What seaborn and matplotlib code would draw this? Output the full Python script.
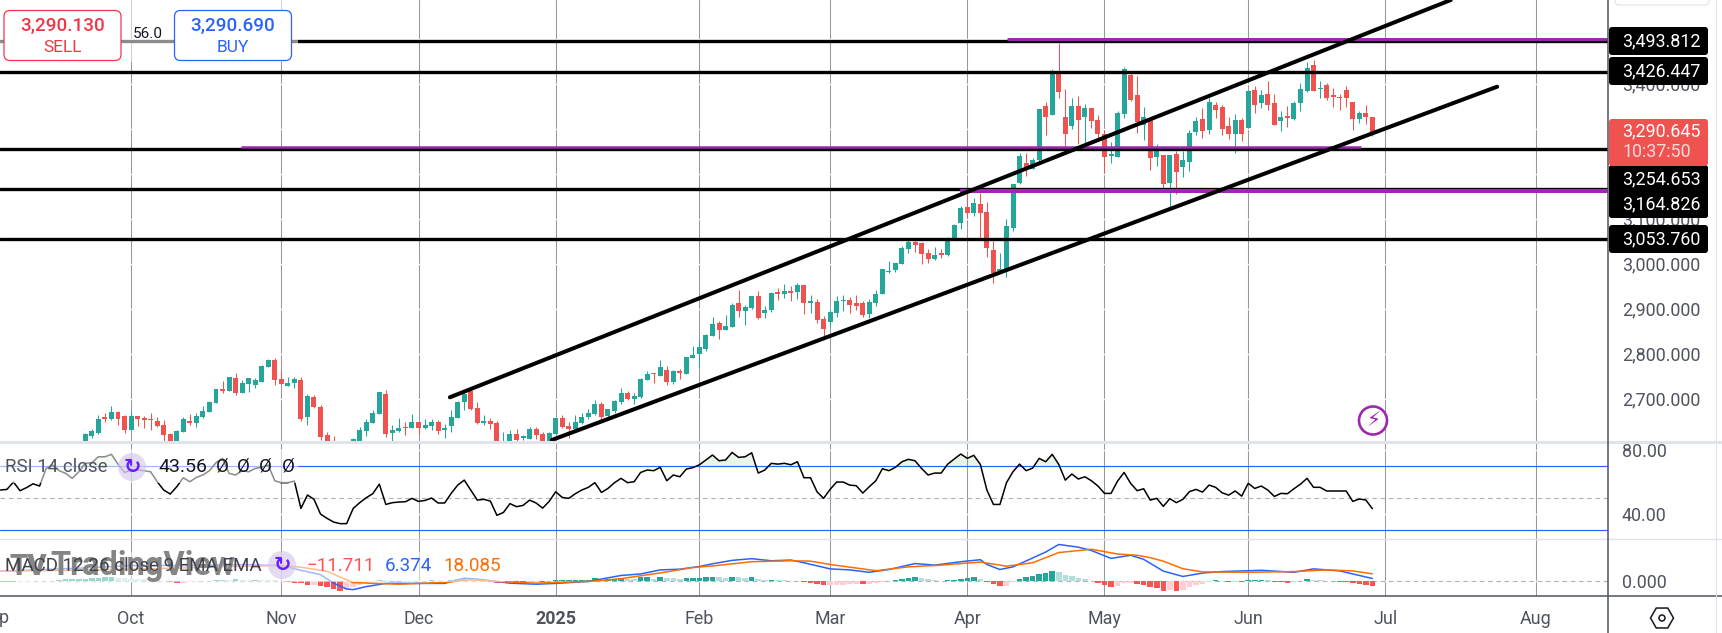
import numpy as np
import matplotlib

matplotlib.use("Agg")
import matplotlib.pyplot as plt
from matplotlib.patches import Circle, FancyBboxPatch, Rectangle, RegularPolygon
import seaborn as sns

# candles, one per trading day
opens = [
    2600, 2617, 2624, 2657, 2654, 2670, 2661, 2630, 2661, 2657,
    2654, 2650, 2641, 2621, 2596, 2626, 2648, 2646, 2659, 2670,
    2690, 2721, 2717, 2746, 2712, 2732, 2730, 2737, 2770, 2786,
    2743, 2728, 2734, 2741, 2659, 2703, 2681, 2619, 2600, 2575,
    2590, 2585, 2600, 2628, 2646, 2666, 2710, 2623, 2628, 2637,
    2634, 2648, 2634, 2639, 2648, 2631, 2639, 2657, 2692, 2716,
    2679, 2646, 2650, 2646, 2590, 2600, 2621, 2613, 2610, 2632,
    2621, 2600, 2621, 2657, 2639, 2632, 2645, 2659, 2665, 2688,
    2661, 2672, 2692, 2712, 2699, 2703, 2741, 2755, 2750, 2763,
    2737, 2761, 2754, 2790, 2799, 2810, 2839, 2868, 2852, 2859,
    2912, 2894, 2901, 2928, 2890, 2897, 2934, 2932, 2939, 2937,
    2952, 2913, 2914, 2877, 2870, 2890, 2917, 2919, 2912, 2912,
    2888, 2912, 2932, 2981, 2985, 2999, 3032, 3048, 3045, 3023,
    3010, 3021, 3019, 3057, 3090, 3126, 3112, 3132, 3114, 3030,
    2984, 2988, 3079, 3179, 3223, 3210, 3230, 3350, 3330, 3426,
    3326, 3305, 3350, 3325, 3345, 3319, 3288, 3240, 3237, 3332,
    3419, 3374, 3308, 3321, 3237, 3241, 3179, 3243, 3214, 3225,
    3292, 3321, 3297, 3352, 3348, 3305, 3288, 3319, 3301, 3385,
    3357, 3377, 3357, 3317, 3326, 3321, 3357, 3383, 3441, 3388,
    3397, 3372, 3370, 3385, 3359, 3321, 3334, 3325,
]
highs = [
    2623, 2632, 2663, 2668, 2683, 2672, 2663, 2672, 2661, 2661,
    2668, 2659, 2652, 2623, 2630, 2659, 2666, 2668, 2683, 2694,
    2721, 2739, 2748, 2757, 2741, 2746, 2746, 2774, 2788, 2790,
    2761, 2748, 2748, 2748, 2710, 2708, 2686, 2626, 2617, 2600,
    2604, 2612, 2637, 2654, 2674, 2714, 2719, 2641, 2657, 2648,
    2666, 2648, 2654, 2654, 2652, 2643, 2674, 2694, 2719, 2719,
    2692, 2663, 2657, 2650, 2626, 2630, 2632, 2619, 2637, 2637,
    2626, 2626, 2657, 2663, 2648, 2663, 2668, 2677, 2697, 2692,
    2677, 2697, 2723, 2717, 2712, 2745, 2761, 2757, 2785, 2772,
    2763, 2765, 2792, 2817, 2830, 2843, 2881, 2872, 2885, 2912,
    2941, 2908, 2928, 2939, 2905, 2937, 2945, 2954, 2950, 2957,
    2952, 2930, 2921, 2883, 2899, 2928, 2930, 2925, 2930, 2917,
    2921, 2941, 2988, 3005, 3001, 3039, 3057, 3057, 3048, 3032,
    3037, 3032, 3059, 3088, 3128, 3154, 3146, 3157, 3137, 3050,
    3023, 3099, 3177, 3246, 3245, 3234, 3343, 3359, 3432, 3490,
    3388, 3368, 3372, 3354, 3345, 3330, 3297, 3270, 3339, 3437,
    3423, 3417, 3348, 3321, 3265, 3241, 3241, 3250, 3250, 3297,
    3326, 3345, 3368, 3359, 3352, 3325, 3332, 3323, 3383, 3394,
    3385, 3405, 3377, 3339, 3350, 3361, 3401, 3448, 3452, 3405,
    3401, 3390, 3377, 3394, 3359, 3339, 3352, 3325,
]
lows = [
    2595, 2612, 2621, 2648, 2652, 2641, 2623, 2630, 2639, 2634,
    2630, 2637, 2600, 2592, 2592, 2626, 2641, 2637, 2657, 2670,
    2690, 2712, 2717, 2708, 2712, 2714, 2723, 2737, 2770, 2730,
    2732, 2728, 2723, 2650, 2641, 2679, 2608, 2580, 2570, 2565,
    2570, 2580, 2595, 2617, 2646, 2666, 2614, 2606, 2626, 2619,
    2634, 2621, 2632, 2630, 2621, 2612, 2626, 2657, 2674, 2674,
    2643, 2641, 2632, 2595, 2585, 2595, 2606, 2608, 2610, 2610,
    2595, 2595, 2621, 2634, 2612, 2630, 2643, 2654, 2663, 2654,
    2659, 2668, 2688, 2697, 2688, 2701, 2741, 2734, 2750, 2730,
    2732, 2743, 2754, 2790, 2770, 2805, 2839, 2832, 2852, 2859,
    2881, 2863, 2899, 2877, 2879, 2892, 2919, 2923, 2917, 2921,
    2888, 2890, 2868, 2837, 2859, 2881, 2894, 2890, 2897, 2881,
    2879, 2905, 2932, 2979, 2981, 2999, 3023, 3025, 2999, 3001,
    3008, 3012, 3017, 3055, 3077, 3101, 3106, 3057, 3014, 2957,
    2983, 2970, 3072, 3177, 3194, 3210, 3228, 3286, 3330, 3368,
    3260, 3300, 3266, 3266, 3301, 3274, 3201, 3223, 3237, 3323,
    3361, 3290, 3274, 3208, 3217, 3167, 3125, 3154, 3192, 3205,
    3286, 3279, 3288, 3323, 3285, 3277, 3246, 3272, 3301, 3334,
    3346, 3341, 3308, 3294, 3303, 3319, 3339, 3381, 3383, 3368,
    3363, 3348, 3341, 3348, 3297, 3312, 3310, 3283,
]
closes = [
    2621, 2628, 2654, 2655, 2670, 2654, 2630, 2661, 2654, 2652,
    2652, 2639, 2619, 2598, 2628, 2654, 2646, 2661, 2672, 2692,
    2721, 2717, 2748, 2712, 2734, 2746, 2741, 2772, 2786, 2741,
    2732, 2734, 2743, 2654, 2706, 2681, 2614, 2590, 2580, 2590,
    2575, 2610, 2630, 2648, 2668, 2714, 2621, 2630, 2634, 2634,
    2648, 2634, 2641, 2648, 2628, 2632, 2659, 2692, 2711, 2677,
    2646, 2650, 2643, 2600, 2600, 2621, 2608, 2614, 2632, 2619,
    2600, 2623, 2657, 2637, 2632, 2648, 2659, 2668, 2688, 2659,
    2677, 2694, 2712, 2699, 2705, 2743, 2754, 2754, 2770, 2737,
    2761, 2757, 2792, 2797, 2814, 2841, 2865, 2852, 2861, 2908,
    2894, 2903, 2928, 2879, 2897, 2934, 2933, 2939, 2934, 2952,
    2912, 2914, 2874, 2854, 2892, 2917, 2919, 2908, 2905, 2885,
    2914, 2932, 2988, 2982, 3001, 3034, 3048, 3041, 3021, 3010,
    3019, 3020, 3052, 3085, 3123, 3112, 3134, 3112, 3034, 2979,
    2985, 3083, 3177, 3239, 3212, 3230, 3343, 3325, 3426, 3381,
    3288, 3350, 3319, 3345, 3317, 3288, 3237, 3241, 3334, 3432,
    3363, 3314, 3326, 3234, 3252, 3177, 3241, 3203, 3230, 3290,
    3317, 3294, 3359, 3341, 3299, 3288, 3319, 3288, 3383, 3352,
    3374, 3352, 3308, 3326, 3324, 3357, 3388, 3434, 3383, 3390,
    3368, 3371, 3368, 3368, 3321, 3334, 3325, 3290.645,
]

# indicators start 13 bars before the first visible candle
first_ind = -13
rsi = [
    55.2, 55.6, 60.2, 54.8, 56.7, 59.1, 57.7, 68.7, 70.8, 67.3, 65.6, 62.5, 66.6,
    71.9, 72.3, 76.0, 76.0, 77.5, 71.4, 66.2, 67.7, 67.7, 67.3,
    66.6, 60.4, 55.2, 52.7, 57.3, 62.9, 60.4, 63.1, 64.6, 67.3,
    72.3, 75.0, 65.6, 64.6, 67.3, 66.6, 68.7, 69.4, 70.8, 61.0,
    59.8, 59.8, 60.8, 43.7, 52.1, 49.4, 40.2, 37.5, 35.2, 34.2,
    34.2, 43.7, 47.3, 50.4, 52.9, 58.9, 46.2, 47.3, 47.7, 47.9,
    50.0, 48.1, 48.7, 50.2, 47.1, 47.1, 53.1, 58.3, 61.4, 55.2,
    48.9, 49.4, 48.3, 39.4, 41.2, 46.7, 44.8, 45.6, 48.9, 47.1,
    43.9, 48.1, 54.1, 50.6, 50.0, 52.9, 55.2, 56.9, 59.8, 53.7,
    56.2, 59.8, 62.5, 59.8, 60.4, 66.2, 67.7, 67.3, 69.4, 61.0,
    64.6, 63.5, 68.3, 69.2, 71.0, 74.0, 77.1, 73.5, 74.0, 78.7,
    75.6, 76.0, 78.5, 65.8, 67.7, 71.9, 71.4, 71.9, 71.0, 72.9,
    62.9, 62.9, 54.1, 50.0, 55.6, 60.2, 60.2, 58.3, 57.9, 53.3,
    57.3, 61.0, 68.5, 67.3, 69.4, 72.9, 74.4, 73.5, 68.7, 64.6,
    65.8, 65.8, 71.4, 74.6, 77.7, 75.0, 76.9, 71.2, 55.2, 46.2,
    46.2, 59.8, 66.7, 71.4, 67.3, 68.9, 75.0, 72.9, 77.5, 71.2,
    61.4, 65.2, 62.1, 63.5, 61.0, 57.7, 53.1, 53.1, 60.8, 66.2,
    59.4, 54.8, 56.0, 48.9, 50.0, 45.0, 49.8, 47.3, 49.4, 54.2,
    55.6, 53.9, 58.3, 56.9, 53.5, 52.0, 54.6, 51.4, 59.4, 56.2,
    57.7, 55.2, 51.2, 53.1, 52.9, 56.0, 58.9, 62.5, 56.9, 56.9,
    54.6, 54.6, 54.6, 54.6, 48.1, 49.6, 49.0, 43.56,
]
macd_hist = [
    -2, -2.5, -3, -2, -1.5, -1, -0.5, 0.5, 1, 3, 4, 4.5, 5,
    6, 7, 8, 9, 9.5, 8, 7, 6, 5, 4,
    3, 2, 1, -3, -6, -5, -3, -2, -1, 0.5,
    3, 3.5, 3, 4, 3.5, 3, 3.5, 3, 2.9, 2,
    -1, -3, -4, -5, -11, -10.8, -11.5, -14, -21, -24,
    -23, -14, -9, -5, -2.5, 2.5, 1.5, -2, -2.5, -2,
    -1.5, -1, 0.5, 2.5, 1.5, 1, 2.5, 5, 7.5, 6.5,
    3.5, 0.5, -3, -4, -2, -1.5, -2.5, -3, -2.5, -1.5,
    -2.5, -1, 2.5, 2.6, 2.7, 2.8, 2.9, 3, 7.5, 3.4,
    5, 6, 8.5, 6, 5, 9.4, 11, 6, 11, 7.7,
    6.8, 5.9, 7.7, 8.1, 8.5, 9, 11, 10.3, 7.7, 11,
    10.3, 8.5, 9, 5.1, 3.4, 3.8, 3.4, 1.7, 1.3, 0.4,
    -3.4, -6, -8.5, -11, -10.7, -10.3, -9, -8.5, -8, -8.5,
    -8, -5, -1.7, -0.9, 3.4, 6, 8.5, 9, 8.5, 6,
    3.4, 0.9, 3.4, 3.8, 6, 8.5, 9, 6, -1.7, -6.8,
    -13.7, -12, -3.4, 6, 11, 11.5, 18.8, 21.4, 26.5, 23.9,
    16.2, 13.7, 8.5, 6, 0.9, -6, -11, -16.2, -13.7, -5,
    -4.7, -8.5, -9, -16.2, -16.7, -23.9, -23.5, -23.9, -21.4, -16.2,
    -11, -8.5, -3.4, 1.7, 0.9, -2.6, -2.1, -3.4, 1.7, 3.4,
    3.8, 2.6, -2.6, -3.4, -3.8, -2.6, 0.9, 6, 3.4, 2.6,
    0.9, 0.4, -2.6, -3.4, -5, -8.5, -9, -11.711,
]
macd_idx = [
    -13, 0, 7, 15, 24, 30, 33, 36, 38, 40, 41, 43, 46, 50, 55, 58, 61, 65, 69, 72,
    77, 79, 82, 85, 88, 91, 94, 96, 99, 102, 105, 108, 110, 114, 117, 120, 123, 127,
    130, 134, 137, 138, 140, 142, 145, 147, 149, 152, 154, 157, 160, 162, 165, 168,
    171, 174, 180, 185, 188, 192, 197,
]
macd_line = [
    24.6, 33, 39, 39, 41, 39, 27, 16, -5.4, -20, -21.6, -14, -6, -6, -6, 7.5, 3.2, -5.4, -8, -6,
    -1, 5, 14, 17.8, 28, 29.8, 36.6, 43.4, 52, 56.3, 51, 52.8, 46, 30.6, 28, 22, 29, 44,
    40, 48.6, 53.7, 41.7, 29, 35.7, 58, 73, 92, 85.3, 76.8, 57, 64.8, 54.6, 25, 11.5,
    20, 23.8, 27, 22, 30.6, 25.5, 6.374,
]
signal_idx = [
    -13, 5, 15, 24, 30, 33, 37, 39, 41, 48, 55, 59, 63, 69, 77, 79, 82, 88, 93, 96,
    102, 108, 111, 114, 121, 126, 131, 137, 141, 145, 149, 154, 158, 161, 163, 165,
    168, 171, 178, 185, 190, 194, 197,
]
signal_line = [
    24.6, 29, 33, 37.4, 39, 34.8, 24.6, 10, -4, -8, -3.6, 3.2, -1, -5.4, -1, 1.5, 6, 20.4, 34, 38,
    48.6, 51, 50, 41.7, 26, 35.7, 40, 47.7, 37.4, 46, 71.7, 80, 68, 64.8, 58.8, 50,
    31, 23, 22, 23.8, 28, 25.5, 18.085,
]

month_idx = [7, 30, 51, 72, 94, 114, 135, 156, 178, 199, 222]
month_labels = ["Oct", "Nov", "Dec", "2025", "Feb", "Mar", "Apr", "May", "Jun", "Jul", "Aug"]
sep_idx = -14

level_prices = [3493.812, 3426.447, 3254.653, 3164.826, 3053.760]
level_labels = ["3,493.812", "3,426.447", "3,254.653", "3,164.826", "3,053.760"]
zone_prices = [3498.2, 3259.6, 3161.8]
zone_starts = [141.1, 23.8, 133.9]
zone_ends = [233.1, 195.2, 233.1]
zone_widths = [2.1, 1.8, 2.9]
upper_idx = [55.8, 209.0]
upper_price = [2702.7, 3585.6]
lower_idx = [71.4, 216.1]
lower_price = [2607.8, 3392.9]

GREEN = "#26A69A"
RED = "#EF5350"
PURPLE = "#9C27B0"
BLUE = "#2962FF"
ORANGE = "#FF6D00"
GRID = "#9598A1"
TEXT = "#50535E"
SEP = "#E0E3EB"

W, H = 1722, 633
PLOT_W = 1608
FS = 12.9
LEGEND_FS = 13.5

sns.set_theme(style="white")
plt.rcParams["font.family"] = ["Roboto", "DejaVu Sans"]

fig = plt.figure(figsize=(W / 100, H / 100), dpi=100, facecolor="white")


def pane(top, bottom):
    ax = fig.add_axes([0, 1 - bottom / H, PLOT_W / W, (bottom - top) / H])
    for spine in ax.spines.values():
        spine.set_visible(False)
    ax.yaxis.tick_right()
    ax.set_axisbelow(True)
    return ax


def finish(ax, ylim, ticks, fmt):
    ax.set_xlabel("")
    ax.set_ylabel("")
    ax.set_xlim(-13.06, 233.07)
    ax.set_ylim(*ylim)
    ax.set_xticks(month_idx)
    ax.set_yticks(ticks)
    ax.set_yticklabels([fmt(t) for t in ticks])
    ax.tick_params(axis="y", length=0, pad=10, labelsize=FS, labelcolor=TEXT)
    ax.tick_params(axis="x", length=0, labelbottom=False)
    ax.grid(axis="x", color=GRID, lw=0.75)
    ax.grid(axis="y", color="white", lw=1.0)


ax_price = pane(0, 441)
ax_rsi = pane(443, 539)
ax_macd = pane(540, 596)

# price pane
o = np.array(opens, float)
c = np.array(closes, float)
hi = np.array(highs, float)
lo = np.array(lows, float)
idx = np.arange(len(o))
up = c >= o
body_low = np.minimum(o, c)
body_h = np.maximum(np.abs(c - o), 3.0)

ax_price.vlines(idx[up], lo[up], hi[up], color=GREEN, lw=0.75, zorder=2)
ax_price.vlines(idx[~up], lo[~up], hi[~up], color=RED, lw=0.75, zorder=2)
for mask, color in [(up, GREEN), (~up, RED)]:
    sns.barplot(
        x=idx[mask], y=body_h[mask], bottom=body_low[mask], native_scale=True,
        color=color, saturation=1, width=0.76, linewidth=0, errorbar=None,
        ax=ax_price, zorder=3,
    )

for price in level_prices:
    ax_price.axhline(price, color="black", lw=2.4, zorder=5)
for price, x0, x1, lw in zip(zone_prices, zone_starts, zone_ends, zone_widths):
    ax_price.plot([x0, x1], [price, price], color=PURPLE, lw=lw, solid_capstyle="butt", zorder=6)
sns.lineplot(x=upper_idx, y=upper_price, color="black", lw=2.9, ax=ax_price, zorder=7,
             solid_capstyle="round", errorbar=None)
sns.lineplot(x=lower_idx, y=lower_price, color="black", lw=2.9, ax=ax_price, zorder=7,
             solid_capstyle="round", errorbar=None)

price_ticks = [2700, 2800, 2900, 3000, 3100, 3200, 3300, 3400, 3500]
finish(ax_price, (2605.6, 3585.6), price_ticks, lambda t: f"{t:,.3f}")

# rsi pane
ind_idx = np.arange(first_ind, first_ind + len(rsi))
rsi_arr = np.array(rsi)
ax_rsi.axhline(70, color=BLUE, lw=0.85, zorder=2)
ax_rsi.axhline(30, color=BLUE, lw=0.85, zorder=2)
ax_rsi.axhline(50, color="#B2B5BE", lw=0.85, ls=(0, (4, 3)), zorder=2)
ax_rsi.fill_between(ind_idx, 70, rsi_arr, where=rsi_arr > 70, color="#4CAF50", alpha=0.12,
                    lw=0, interpolate=True, zorder=1)
sns.lineplot(x=ind_idx, y=rsi_arr, color="black", lw=1.1, ax=ax_rsi, zorder=3, errorbar=None)
finish(ax_rsi, (24.6, 84.6), [40, 80], lambda t: f"{t:.2f}")

# macd pane
hist = np.array(macd_hist, float)
prev = np.r_[hist[0], hist[:-1]]
shade = np.where(
    hist >= 0,
    np.where(hist >= prev, "gd", "gl"),
    np.where(hist <= prev, "rd", "rl"),
)
ax_macd.axhline(0, color="#B2B5BE", lw=0.85, ls=(0, (4, 3)), zorder=1)
sns.barplot(
    x=ind_idx, y=hist, hue=shade, native_scale=True, dodge=False, legend=False,
    palette={"gd": GREEN, "gl": "#B2DFDB", "rd": "#FF5252", "rl": "#FFCDD2"},
    saturation=1, width=0.85, linewidth=0, errorbar=None, ax=ax_macd, zorder=2,
)
sns.lineplot(x=macd_idx, y=macd_line, color=BLUE, lw=1.1, ax=ax_macd, zorder=3, errorbar=None)
sns.lineplot(x=signal_idx, y=signal_line, color=ORANGE, lw=1.1, ax=ax_macd, zorder=4, errorbar=None)
finish(ax_macd, (-37.7, 103.3), [0], lambda t: f"{t:.3f}")
ax_macd.set_xticklabels(month_labels)
ax_macd.tick_params(axis="x", labelbottom=True, pad=10, labelsize=FS, labelcolor=TEXT)
for label in ax_macd.get_xticklabels():
    if label.get_text() == "2025":
        label.set_fontweight("bold")

# screen furniture on top, in pixel coordinates
ui = fig.add_axes([0, 0, 1, 1], zorder=10)
ui.set_xlim(0, W)
ui.set_ylim(H, 0)
ui.axis("off")
ui.patch.set_alpha(0)


def tag(x, y, w, h, color):
    ui.add_patch(FancyBboxPatch((x, y), w, h, boxstyle="round,pad=0,rounding_size=3",
                                fc=color, ec="none", zorder=3))


# section separators and axes lines
ui.plot([0, W], [442, 442], color=SEP, lw=2.2, zorder=1)
ui.plot([0, W], [539.3, 539.3], color=SEP, lw=1.0, zorder=1)
ui.plot([0, W], [596, 596], color=TEXT, lw=1.1, zorder=1)
ui.plot([PLOT_W, PLOT_W], [0, H], color=TEXT, lw=1.1, zorder=2)
ui.plot([1716, 1716], [0, H], color=SEP, lw=0.8, zorder=2)
ui.add_patch(FancyBboxPatch((1615, -10), 94, 15, boxstyle="round,pad=0,rounding_size=4",
                            fc="white", ec=SEP, lw=0.8, zorder=2))

# translucent legend backgrounds
ui.add_patch(Rectangle((0, 0), 298, 62, fc="white", ec="none", alpha=0.55, zorder=2))
ui.add_patch(Rectangle((0, 451), 298, 32, fc="white", ec="none", alpha=0.55, zorder=2))
ui.add_patch(Rectangle((0, 552), 505, 29.5, fc="white", ec="none", alpha=0.55, zorder=2))

# price tags on the right axis
tag_centers = [41, 71, 179, 204, 239]
for label, yc in zip(level_labels, tag_centers):
    tag(1609, yc - 14, 99, 28, "black")
    ui.text(1622, yc, label, color="white", fontsize=FS, va="center", ha="left", zorder=5)
tag(1609, 166, 99, 52, "black")
tag(1609, 119, 99, 47, RED)
ui.text(1622, 131, "3,290.645", color="white", fontsize=FS, va="center", zorder=5)
ui.text(1622, 152, "10:37:50", color="#FFD9D9", fontsize=FS, va="center", zorder=5)

# sell and buy buttons
for x, color, price, side in [(4, "#F23645", "3,290.130", "SELL"), (174.5, BLUE, "3,290.690", "BUY")]:
    ui.add_patch(FancyBboxPatch((x, 10.5), 117, 50, boxstyle="round,pad=0,rounding_size=6",
                                fc="white", ec=color, lw=0.9, zorder=3))
    ui.text(x + 58.5, 26, price, color=color, fontsize=13.6, ha="center", va="center",
            fontweight="medium", zorder=5)
    ui.text(x + 58.5, 47, side, color=color, fontsize=12.5, ha="center", va="center", zorder=5)
ui.text(148, 34, "56.0", color="#131722", fontsize=11, ha="center", va="center", zorder=5)

# alert badge
ui.add_patch(Circle((1373, 420.5), 14, fc="white", ec=PURPLE, lw=1.9, zorder=3))
ui.text(1373, 420.5, "⚡", color=PURPLE, fontsize=14.5, ha="center", va="center",
        family="DejaVu Sans", zorder=5)

# watermark
ui.text(10, 575, "TV", color="#858585", fontsize=21, fontweight="black", va="baseline", zorder=3)
ui.text(50, 575, "TradingView", color="#858585", fontsize=23.5, fontweight="bold",
        va="baseline", zorder=3)

# indicator legends
ui.text(5, 467, "RSI 14 close", color=TEXT, fontsize=LEGEND_FS, va="center", zorder=5)
ui.text(158, 467, "43.56", color="#131722", fontsize=LEGEND_FS + 0.5, va="center", zorder=5)
for xs in [222, 243, 265, 288]:
    ui.text(xs, 467, "Ø", color="#131722", fontsize=LEGEND_FS, ha="center", va="center", zorder=5)
ui.text(5, 566, "MACD 12 26 close 9 EMA EMA", color="#3F424B", fontsize=LEGEND_FS, va="center", zorder=5)
ui.text(307, 566, "−11.711", color="#FF5252", fontsize=LEGEND_FS, va="center", zorder=5)
ui.text(385, 566, "6.374", color=BLUE, fontsize=LEGEND_FS, va="center", zorder=5)
ui.text(443, 566, "18.085", color=ORANGE, fontsize=LEGEND_FS, va="center", zorder=5)
for xc, yc in [(132, 467), (282, 565)]:
    ui.add_patch(Circle((xc, yc), 14, fc="#D1C4E9", ec="none", alpha=0.6, zorder=4))
    ui.text(xc, yc, "↻", color="#651FFF", fontsize=15, ha="center", va="center",
            family="DejaVu Sans", fontweight="bold", zorder=5)

# Sep is only half on screen, so it cannot be a regular tick
sep_x = (sep_idx + 13.06) / (233.07 + 13.06) * PLOT_W
ui.text(sep_x, 618, "Sep", color=TEXT, fontsize=FS, ha="center", va="center", zorder=5)

# settings cog
ui.add_patch(RegularPolygon((1662, 618), 6, radius=11.5, orientation=np.pi / 6,
                            fc="white", ec="#131722", lw=1.1, zorder=4))
ui.add_patch(Circle((1662, 618), 3, fc="white", ec="#131722", lw=1.1, zorder=5))

fig.savefig("out.png", dpi=100)
